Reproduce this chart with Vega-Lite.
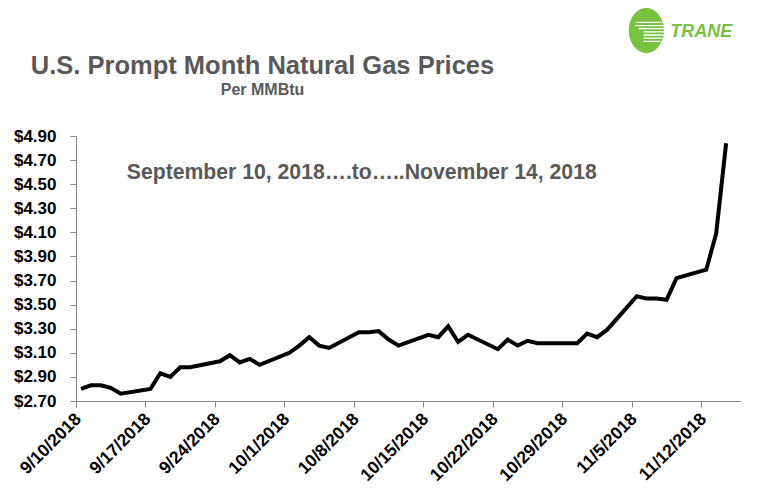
{
  "$schema": "https://vega.github.io/schema/vega-lite/v6.json",
  "width": 665,
  "height": 265,
  "autosize": "none",
  "padding": {"left": 76, "top": 136, "right": 17, "bottom": 103},
  "background": "white",
  "config": {"view": {"stroke": null}, "font": "Liberation Sans"},
  "data": {
    "values": [
      {"date": "2018-09-10", "price": 2.80},
      {"date": "2018-09-11", "price": 2.83},
      {"date": "2018-09-12", "price": 2.83},
      {"date": "2018-09-13", "price": 2.81},
      {"date": "2018-09-14", "price": 2.76},
      {"date": "2018-09-17", "price": 2.80},
      {"date": "2018-09-18", "price": 2.93},
      {"date": "2018-09-19", "price": 2.90},
      {"date": "2018-09-20", "price": 2.98},
      {"date": "2018-09-21", "price": 2.98},
      {"date": "2018-09-24", "price": 3.03},
      {"date": "2018-09-25", "price": 3.08},
      {"date": "2018-09-26", "price": 3.02},
      {"date": "2018-09-27", "price": 3.05},
      {"date": "2018-09-28", "price": 3.00},
      {"date": "2018-10-01", "price": 3.10},
      {"date": "2018-10-02", "price": 3.16},
      {"date": "2018-10-03", "price": 3.23},
      {"date": "2018-10-04", "price": 3.16},
      {"date": "2018-10-05", "price": 3.14},
      {"date": "2018-10-08", "price": 3.27},
      {"date": "2018-10-09", "price": 3.27},
      {"date": "2018-10-10", "price": 3.28},
      {"date": "2018-10-11", "price": 3.21},
      {"date": "2018-10-12", "price": 3.16},
      {"date": "2018-10-15", "price": 3.25},
      {"date": "2018-10-16", "price": 3.23},
      {"date": "2018-10-17", "price": 3.32},
      {"date": "2018-10-18", "price": 3.19},
      {"date": "2018-10-19", "price": 3.25},
      {"date": "2018-10-22", "price": 3.13},
      {"date": "2018-10-23", "price": 3.21},
      {"date": "2018-10-24", "price": 3.16},
      {"date": "2018-10-25", "price": 3.20},
      {"date": "2018-10-26", "price": 3.18},
      {"date": "2018-10-29", "price": 3.18},
      {"date": "2018-10-30", "price": 3.18},
      {"date": "2018-10-31", "price": 3.26},
      {"date": "2018-11-01", "price": 3.23},
      {"date": "2018-11-02", "price": 3.29},
      {"date": "2018-11-05", "price": 3.57},
      {"date": "2018-11-06", "price": 3.55},
      {"date": "2018-11-07", "price": 3.55},
      {"date": "2018-11-08", "price": 3.54},
      {"date": "2018-11-09", "price": 3.72},
      {"date": "2018-11-12", "price": 3.79},
      {"date": "2018-11-13", "price": 4.09},
      {"date": "2018-11-14", "price": 4.84}
    ]
  },
  "layer": [
    {
      "mark": {"type": "line", "color": "black", "strokeWidth": 4},
      "encoding": {
        "x": {
          "field": "date",
          "type": "temporal",
          "timeUnit": "utcyearmonthdate",
          "bandPosition": 0.5,
          "scale": {
            "type": "utc",
            "domain": [
              {"year": 2018, "month": 9, "date": 10, "utc": true},
              {"year": 2018, "month": 11, "date": 16, "utc": true}
            ]
          },
          "axis": {
            "title": null,
            "grid": false,
            "format": "%-m/%-d/%Y",
            "tickCount": 30,
            "values": [
              {"year": 2018, "month": 9, "date": 10, "utc": true},
              {"year": 2018, "month": 9, "date": 17, "utc": true},
              {"year": 2018, "month": 9, "date": 24, "utc": true},
              {"year": 2018, "month": 10, "date": 1, "utc": true},
              {"year": 2018, "month": 10, "date": 8, "utc": true},
              {"year": 2018, "month": 10, "date": 15, "utc": true},
              {"year": 2018, "month": 10, "date": 22, "utc": true},
              {"year": 2018, "month": 10, "date": 29, "utc": true},
              {"year": 2018, "month": 11, "date": 5, "utc": true},
              {"year": 2018, "month": 11, "date": 12, "utc": true}
            ],
            "labelAngle": -45,
            "labelAlign": "right",
            "labelBaseline": "middle",
            "labelFont": "Liberation Sans",
            "labelFontSize": 17.5,
            "labelFontWeight": "bold",
            "labelColor": "black",
            "labelPadding": 9,
            "labelOffset": 2,
            "labelOverlap": false,
            "labelFlush": false,
            "domainColor": "#868686",
            "tickColor": "#868686",
            "tickSize": 6
          }
        },
        "y": {
          "field": "price",
          "type": "quantitative",
          "scale": {"domain": [2.7, 4.9], "nice": false, "zero": false},
          "axis": {
            "title": null,
            "grid": false,
            "tickCount": 30,
            "values": [2.7, 2.9, 3.1, 3.3, 3.5, 3.7, 3.9, 4.1, 4.3, 4.5, 4.7, 4.9],
            "format": "$.2f",
            "labelFont": "Liberation Sans",
            "labelFontSize": 17,
            "labelFontWeight": "bold",
            "labelColor": "black",
            "labelPadding": 14,
            "labelOverlap": false,
            "labelFlush": false,
            "domainColor": "#868686",
            "tickColor": "#868686",
            "tickSize": 6
          }
        }
      }
    },
    {
      "data": {"values": [{"label": "U.S. Prompt Month Natural Gas Prices"}]},
      "mark": {"type": "text", "font": "Liberation Sans", "fontSize": 25.5, "fontWeight": "bold", "color": "#595959", "align": "center", "baseline": "alphabetic"},
      "encoding": {
        "x": {"datum": {"year": 2018, "month": 9, "date": 28, "hours": 19, "utc": true}, "type": "temporal"},
        "y": {"datum": 5.412, "type": "quantitative"},
        "text": {"field": "label"}
      }
    },
    {
      "data": {"values": [{"label": "Per MMBtu"}]},
      "mark": {"type": "text", "font": "Liberation Sans", "fontSize": 16, "fontWeight": "bold", "color": "#595959", "align": "center", "baseline": "alphabetic"},
      "encoding": {
        "x": {"datum": {"year": 2018, "month": 9, "date": 28, "hours": 19, "utc": true}, "type": "temporal"},
        "y": {"datum": 5.24, "type": "quantitative"},
        "text": {"field": "label"}
      }
    },
    {
      "data": {"values": [{"label": "September 10, 2018\u2026.to\u2026..November 14, 2018"}]},
      "mark": {"type": "text", "font": "Liberation Sans", "fontSize": 21.2, "fontWeight": "bold", "color": "#595959", "align": "center", "baseline": "alphabetic"},
      "encoding": {
        "x": {"datum": {"year": 2018, "month": 10, "date": 8, "hours": 19, "utc": true}, "type": "temporal"},
        "y": {"datum": 4.543, "type": "quantitative"},
        "text": {"field": "label"}
      }
    },
    {
      "data": {"values": [{"brand": "Trane"}]},
      "mark": {"type": "point", "filled": true, "color": "#79c142", "opacity": 1, "size": 2025, "shape": "M -0.78,0 A 0.78,1 0 1,1 0.78,0 A 0.78,1 0 1,1 -0.78,0 Z"},
      "encoding": {
        "x": {"datum": {"year": 2018, "month": 11, "date": 6, "hours": 11, "utc": true}, "type": "temporal"},
        "y": {"datum": 5.776, "type": "quantitative"}
      }
    },
    {
      "data": {"values": [{"brand": "Trane"}]},
      "mark": {"type": "point", "filled": false, "stroke": "white", "strokeWidth": 1.3, "opacity": 1, "size": 2025, "shape": "M -0.45,-0.36 H 0.7 M -0.5,-0.22 H 0.75 M -0.35,-0.08 H 0.78 M -0.12,0.06 H 0.78 M -0.12,0.2 H 0.76 M -0.12,0.34 H 0.72 M -0.12,0.48 H 0.64"},
      "encoding": {
        "x": {"datum": {"year": 2018, "month": 11, "date": 6, "hours": 11, "utc": true}, "type": "temporal"},
        "y": {"datum": 5.776, "type": "quantitative"}
      }
    },
    {
      "data": {"values": [{"label": "TRANE"}]},
      "mark": {"type": "text", "font": "Liberation Sans", "fontSize": 18, "fontWeight": "bold", "fontStyle": "italic", "color": "#79c142", "align": "center", "baseline": "alphabetic"},
      "encoding": {
        "x": {"datum": {"year": 2018, "month": 11, "date": 12, "hours": 0, "utc": true}, "type": "temporal"},
        "y": {"datum": 5.722, "type": "quantitative"},
        "text": {"field": "label"}
      }
    }
  ]
}
